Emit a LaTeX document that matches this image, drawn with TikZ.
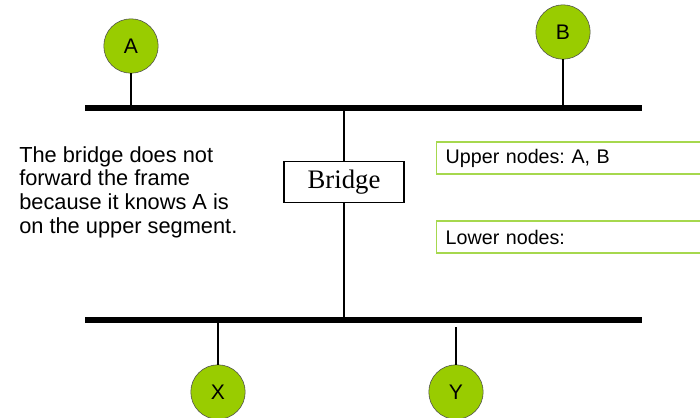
\documentclass[tikz,border=0pt]{standalone}
\usepackage{fontspec}
\setmainfont{Liberation Sans}
\newfontfamily\serif{Liberation Serif}
\frenchspacing
\definecolor{station}{HTML}{99CC00}
\definecolor{tablegreen}{HTML}{A6D84E}
\tikzset{
  host/.style={circle,draw=black!70,fill=station,minimum size=1.36cm,inner sep=0pt,font=\fontsize{15}{17}\selectfont},
  bus/.style={line width=1.5mm},
  tap/.style={line width=0.35mm},
  tablebox/.style={draw=tablegreen,line width=0.35mm,anchor=west,minimum width=6.8cm,minimum height=0.8cm,
    text width=6.35cm,align=left,inner xsep=0.2cm,font=\fontsize{14}{16}\selectfont},
}
\begin{document}
\begin{tikzpicture}[x=0.025cm,y=-0.025cm]
		\useasboundingbox (0,0) rectangle (700,417);
		\clip (0,0) rectangle (700,417);

		% the two segments
		\coordinate (u1) at (85,108);
		\coordinate (u2) at (642,108);
		\coordinate (l1) at (85,320);
		\coordinate (l2) at (642,320);
		\draw[bus] (u1) -- (u2);
		\draw[bus] (l1) -- (l2);

		% stations
		\node[host] (A) at (131,46) {A};
		\node[host] (B) at (563,32) {B};
		\node[host] (X) at (218,392) {X};
		\node[host] (Y) at (456,392) {Y};
		\coordinate (uA) at (131,108);
		\coordinate (uB) at (563,108);
		\coordinate (lX) at (218,320);
		\coordinate (lY) at (456,327);
		\draw[tap] (A) edge (uA);
		\draw[tap] (B) edge (uB);
		\draw[tap] (X) edge (lX);
		\draw[tap] (Y) edge (lY);

		% bridge between the segments
		\coordinate (ub) at (344,108);
		\coordinate (lb) at (344,320);
		\draw[tap] (ub) -- (lb);
		\node[draw,line width=0.35mm,fill=white,minimum width=3cm,minimum height=1.02cm,
		  font=\serif\fontsize{19}{21}\selectfont] (bridge) at (344,182) {Bridge};

		% forwarding table
		\node[tablebox] (upper) at (436,158) {Upper nodes: A, B};
		\node[tablebox] (lower) at (436,237) {Lower nodes:};

		\node[anchor=north west,align=left,inner sep=0pt,font=\fontsize{15.5}{17}\selectfont] (note) at (19,146)
		  {The bridge does not\\forward the frame\\because it knows A is\\on the upper segment.};
	\end{tikzpicture}
\end{document}
